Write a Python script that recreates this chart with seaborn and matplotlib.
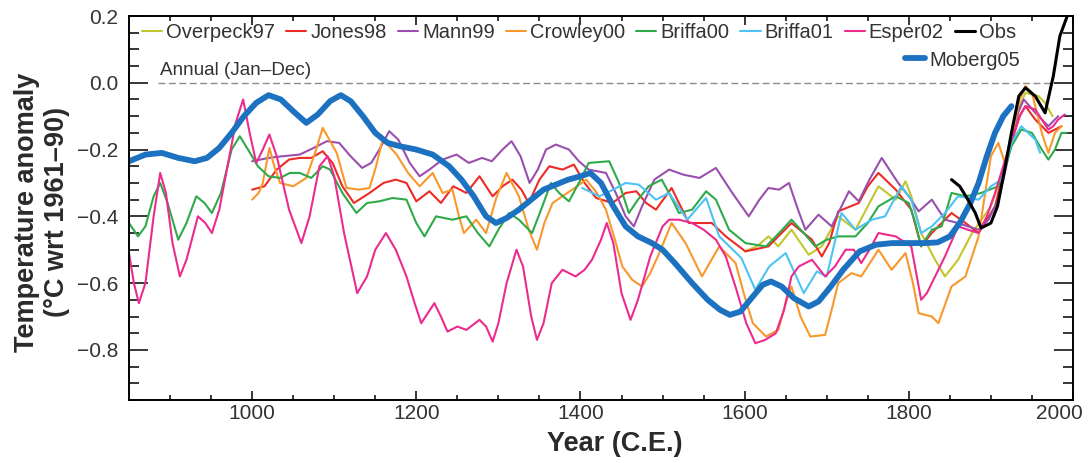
import numpy as np
import matplotlib
matplotlib.use("Agg")
import matplotlib.pyplot as plt
import matplotlib.transforms as mtransforms
import seaborn as sns

# values (deg C wrt 1961-90)
overpeck_years = [1600, 1615, 1629, 1641, 1657, 1678, 1694, 1714, 1735, 1750, 1763, 1784, 1796, 1803,
                  1815, 1832, 1844, 1860, 1877, 1900, 1913, 1925, 1935, 1942, 1958, 1966, 1975]
overpeck_vals = [-0.505, -0.49, -0.46, -0.49, -0.44, -0.515, -0.49, -0.40, -0.44, -0.37, -0.31, -0.35, -0.295, -0.34,
                 -0.45, -0.53, -0.58, -0.53, -0.45, -0.37, -0.28, -0.17, -0.07, -0.03, -0.04, -0.06, -0.1]

jones_years = [1000, 1015, 1030, 1045, 1058, 1072, 1086, 1098, 1110, 1124, 1143, 1160, 1175, 1188, 1200,
               1216, 1230, 1245, 1261, 1277, 1293, 1305, 1317, 1328, 1337, 1350, 1362, 1378, 1392, 1405,
               1419, 1439, 1455, 1468, 1480, 1492, 1511, 1520, 1532, 1560, 1577, 1601, 1629, 1645, 1657,
               1682, 1694, 1703, 1714, 1739, 1750, 1763, 1784, 1803, 1815, 1828, 1852, 1869, 1885, 1905,
               1915, 1925, 1935, 1942, 1954, 1970, 1978, 1986]
jones_vals = [-0.32, -0.31, -0.26, -0.23, -0.225, -0.225, -0.205, -0.24, -0.31, -0.36, -0.33, -0.30, -0.29, -0.30, -0.355,
              -0.325, -0.36, -0.31, -0.33, -0.28, -0.34, -0.31, -0.29, -0.32, -0.36, -0.29, -0.25, -0.26, -0.245, -0.30,
              -0.345, -0.36, -0.33, -0.325, -0.36, -0.38, -0.315, -0.36, -0.42, -0.42, -0.46, -0.505, -0.49, -0.45, -0.42,
              -0.47, -0.52, -0.48, -0.385, -0.36, -0.31, -0.27, -0.32, -0.38, -0.49, -0.45, -0.39, -0.42, -0.45, -0.37,
              -0.27, -0.18, -0.10, -0.07, -0.11, -0.15, -0.14, -0.13]

mann_years = [1000, 1020, 1037, 1058, 1075, 1091, 1106, 1120, 1134, 1145, 1155, 1167, 1178, 1192, 1204,
              1216, 1232, 1249, 1264, 1280, 1292, 1305, 1316, 1327, 1338, 1348, 1358, 1370, 1386, 1398,
              1410, 1431, 1443, 1455, 1465, 1475, 1490, 1508, 1525, 1545, 1565, 1585, 1605, 1618, 1629,
              1642, 1654, 1665, 1674, 1690, 1706, 1727, 1739, 1752, 1767, 1787, 1800, 1812, 1828, 1844,
              1860, 1872, 1885, 1897, 1909, 1917, 1925, 1933, 1940, 1954, 1970, 1982]
mann_vals = [-0.235, -0.225, -0.22, -0.215, -0.195, -0.175, -0.18, -0.22, -0.255, -0.24, -0.20, -0.145, -0.17, -0.24, -0.28,
             -0.26, -0.23, -0.215, -0.24, -0.225, -0.235, -0.20, -0.175, -0.22, -0.30, -0.26, -0.20, -0.185, -0.20, -0.235,
             -0.26, -0.27, -0.33, -0.40, -0.43, -0.37, -0.29, -0.26, -0.275, -0.285, -0.255, -0.33, -0.40, -0.35, -0.315,
             -0.32, -0.30, -0.38, -0.44, -0.395, -0.43, -0.325, -0.355, -0.29, -0.225, -0.30, -0.34, -0.385, -0.35, -0.41,
             -0.42, -0.43, -0.44, -0.41, -0.35, -0.27, -0.18, -0.09, -0.05, -0.09, -0.13, -0.10]

crowley_years = [1000, 1008, 1013, 1021, 1027, 1034, 1050, 1066, 1078, 1086, 1094, 1103, 1115, 1130, 1143,
                 1151, 1159, 1167, 1176, 1190, 1204, 1220, 1232, 1244, 1252, 1258, 1273, 1285, 1298, 1310,
                 1325, 1337, 1347, 1356, 1366, 1390, 1407, 1420, 1431, 1442, 1451, 1463, 1475, 1485, 1496,
                 1511, 1528, 1548, 1569, 1589, 1600, 1610, 1626, 1641, 1650, 1657, 1668, 1680, 1698, 1706,
                 1714, 1730, 1742, 1763, 1779, 1796, 1805, 1812, 1828, 1836, 1852, 1869, 1885, 1893, 1900,
                 1909, 1917, 1925, 1935, 1942, 1950, 1962, 1970, 1978, 1986]
crowley_vals = [-0.35, -0.33, -0.30, -0.195, -0.25, -0.30, -0.31, -0.285, -0.20, -0.135, -0.17, -0.21, -0.315, -0.32, -0.315,
                -0.25, -0.17, -0.19, -0.215, -0.27, -0.31, -0.27, -0.33, -0.32, -0.40, -0.45, -0.41, -0.45, -0.34, -0.27,
                -0.34, -0.44, -0.50, -0.42, -0.36, -0.32, -0.29, -0.33, -0.38, -0.47, -0.55, -0.59, -0.61, -0.57, -0.51,
                -0.42, -0.48, -0.58, -0.49, -0.54, -0.64, -0.72, -0.76, -0.74, -0.66, -0.61, -0.70, -0.76, -0.755, -0.68,
                -0.60, -0.57, -0.58, -0.50, -0.56, -0.51, -0.60, -0.69, -0.70, -0.72, -0.61, -0.58, -0.46, -0.33, -0.22,
                -0.18, -0.24, -0.17, -0.05, -0.01, -0.03, -0.15, -0.21, -0.15, -0.13]

briffa00_years = [850, 861, 870, 880, 888, 897, 910, 920, 932, 942, 951, 962, 975, 985, 995,
                  1007, 1020, 1034, 1046, 1058, 1072, 1086, 1095, 1110, 1127, 1140, 1155, 1171, 1188, 1200,
                  1210, 1224, 1244, 1261, 1275, 1289, 1300, 1313, 1325, 1341, 1352, 1364, 1374, 1386, 1398,
                  1410, 1435, 1447, 1459, 1470, 1483, 1499, 1510, 1520, 1536, 1553, 1565, 1581, 1601, 1626,
                  1642, 1657, 1672, 1686, 1700, 1714, 1735, 1750, 1763, 1784, 1800, 1808, 1815, 1828, 1840,
                  1852, 1869, 1888, 1909, 1918, 1925, 1937, 1950, 1962, 1970, 1978, 1986, 1992]
briffa00_vals = [-0.42, -0.46, -0.43, -0.34, -0.30, -0.36, -0.47, -0.42, -0.34, -0.36, -0.39, -0.33, -0.20, -0.16, -0.20,
                 -0.25, -0.28, -0.285, -0.27, -0.27, -0.285, -0.25, -0.26, -0.33, -0.39, -0.36, -0.355, -0.345, -0.35, -0.42,
                 -0.46, -0.40, -0.41, -0.40, -0.45, -0.49, -0.44, -0.39, -0.41, -0.45, -0.38, -0.30, -0.33, -0.355, -0.30,
                 -0.24, -0.235, -0.30, -0.39, -0.35, -0.31, -0.29, -0.34, -0.39, -0.38, -0.325, -0.35, -0.44, -0.48, -0.49,
                 -0.45, -0.41, -0.45, -0.49, -0.47, -0.46, -0.46, -0.42, -0.37, -0.34, -0.36, -0.42, -0.49, -0.44, -0.43,
                 -0.33, -0.34, -0.33, -0.31, -0.25, -0.19, -0.14, -0.15, -0.20, -0.23, -0.20, -0.15, -0.15]

briffa01_years = [1402, 1423, 1440, 1455, 1471, 1492, 1508, 1530, 1553, 1569, 1596, 1613, 1630, 1650, 1672,
                  1688, 1700, 1718, 1735, 1755, 1771, 1791, 1803, 1815, 1828, 1844, 1860, 1885, 1900, 1913,
                  1925, 1937, 1954, 1960]
briffa01_vals = [-0.315, -0.34, -0.32, -0.30, -0.305, -0.35, -0.33, -0.41, -0.345, -0.46, -0.525, -0.62, -0.55, -0.51, -0.63,
                 -0.565, -0.58, -0.39, -0.44, -0.41, -0.40, -0.31, -0.35, -0.45, -0.43, -0.39, -0.34, -0.35, -0.31, -0.29,
                 -0.18, -0.13, -0.17, -0.21]

esper_years = [850, 856, 862, 870, 880, 888, 895, 903, 912, 920, 934, 943, 951, 960, 970,
               980, 989, 997, 1005, 1013, 1021, 1030, 1045, 1060, 1070, 1082, 1092, 1100, 1112, 1128,
               1140, 1150, 1163, 1175, 1188, 1198, 1206, 1214, 1222, 1230, 1238, 1250, 1261, 1277, 1285,
               1293, 1300, 1310, 1322, 1330, 1340, 1347, 1355, 1365, 1378, 1394, 1405, 1414, 1425, 1432,
               1440, 1450, 1461, 1470, 1485, 1500, 1508, 1520, 1536, 1550, 1565, 1577, 1590, 1602, 1613,
               1625, 1638, 1648, 1657, 1666, 1682, 1698, 1710, 1723, 1733, 1742, 1752, 1763, 1784, 1803,
               1809, 1815, 1822, 1830, 1844, 1860, 1872, 1885, 1895, 1905, 1915, 1925, 1935, 1942, 1954,
               1962, 1970, 1976, 1982, 1990]
esper_vals = [-0.51, -0.60, -0.66, -0.60, -0.40, -0.27, -0.33, -0.48, -0.58, -0.53, -0.40, -0.42, -0.45, -0.38, -0.25,
              -0.12, -0.05, -0.15, -0.24, -0.20, -0.155, -0.22, -0.38, -0.48, -0.40, -0.25, -0.22, -0.28, -0.45, -0.63,
              -0.58, -0.50, -0.45, -0.50, -0.58, -0.66, -0.72, -0.69, -0.66, -0.70, -0.745, -0.73, -0.74, -0.71, -0.73,
              -0.775, -0.72, -0.60, -0.50, -0.55, -0.70, -0.77, -0.72, -0.60, -0.56, -0.58, -0.56, -0.53, -0.47, -0.42,
              -0.48, -0.63, -0.71, -0.65, -0.52, -0.43, -0.41, -0.41, -0.42, -0.44, -0.47, -0.52, -0.62, -0.72, -0.78,
              -0.77, -0.75, -0.68, -0.58, -0.55, -0.53, -0.58, -0.55, -0.50, -0.50, -0.54, -0.50, -0.45, -0.46, -0.49,
              -0.57, -0.65, -0.63, -0.59, -0.52, -0.43, -0.44, -0.45, -0.40, -0.33, -0.25, -0.17, -0.10, -0.07, -0.08,
              -0.11, -0.14, -0.13, -0.11, -0.095]

obs_years = [1852, 1862, 1872, 1881, 1888, 1900, 1908, 1916, 1925, 1934, 1942, 1954, 1966, 1976, 1984, 1993]
obs_vals = [-0.29, -0.31, -0.35, -0.39, -0.435, -0.42, -0.37, -0.27, -0.15, -0.04, -0.015, -0.04, -0.09, 0.02, 0.14, 0.2]

moberg_years = [850, 870, 890, 910, 930, 945, 960, 975, 990, 1005, 1020, 1035, 1050, 1066, 1080,
                1095, 1108, 1120, 1135, 1150, 1165, 1180, 1200, 1220, 1240, 1255, 1270, 1285, 1297, 1310,
                1325, 1340, 1355, 1370, 1385, 1400, 1412, 1425, 1440, 1455, 1470, 1487, 1500, 1515, 1536,
                1555, 1570, 1582, 1595, 1610, 1622, 1632, 1645, 1660, 1678, 1690, 1705, 1720, 1740, 1760,
                1780, 1800, 1820, 1835, 1850, 1862, 1875, 1885, 1895, 1905, 1915, 1925]
moberg_vals = [-0.235, -0.215, -0.21, -0.225, -0.235, -0.225, -0.195, -0.15, -0.10, -0.06, -0.037, -0.05, -0.085, -0.12, -0.095,
               -0.055, -0.037, -0.055, -0.10, -0.15, -0.18, -0.19, -0.20, -0.215, -0.25, -0.29, -0.34, -0.40, -0.42, -0.405,
               -0.38, -0.35, -0.32, -0.305, -0.29, -0.28, -0.27, -0.30, -0.37, -0.43, -0.46, -0.48, -0.50, -0.54, -0.60,
               -0.65, -0.68, -0.695, -0.685, -0.64, -0.605, -0.595, -0.61, -0.645, -0.67, -0.655, -0.61, -0.56, -0.505, -0.485,
               -0.48, -0.48, -0.48, -0.478, -0.46, -0.42, -0.36, -0.30, -0.22, -0.15, -0.10, -0.07]

x_major = [1000, 1200, 1400, 1600, 1800, 2000]
y_major = [0.2, 0.0, -0.2, -0.4, -0.6, -0.8]

thin_series = [
    ("Overpeck97", overpeck_years, overpeck_vals, "#c2c62e"),
    ("Jones98", jones_years, jones_vals, "#ec2b27"),
    ("Mann99", mann_years, mann_vals, "#9a4fae"),
    ("Crowley00", crowley_years, crowley_vals, "#f8982c"),
    ("Briffa00", briffa00_years, briffa00_vals, "#2faa4a"),
    ("Briffa01", briffa01_years, briffa01_vals, "#4cc3f2"),
    ("Esper02", esper_years, esper_vals, "#ec2b8e"),
]

sns.set_theme(style="ticks")
plt.rcParams["font.family"] = ["Liberation Sans", "DejaVu Sans"]
plt.rcParams["axes.unicode_minus"] = True

fig = plt.figure(figsize=(10.88, 4.63), dpi=100)
ax = fig.add_axes([129 / 1088, 63 / 463, 944 / 1088, 384 / 463])

ax.hlines(0, 885, 1972, colors="#8c8c8c", linestyles=(0, (5, 2.5)), linewidth=1.0, zorder=1)

for name, yrs, vals, col in thin_series:
    sns.lineplot(x=yrs, y=vals, ax=ax, color=col, linewidth=1.5, label=name, estimator=None)
sns.lineplot(x=moberg_years, y=moberg_vals, ax=ax, color="#1c72c0", linewidth=4.2, label="Moberg05", estimator=None)
sns.lineplot(x=obs_years, y=obs_vals, ax=ax, color="black", linewidth=2.2, label="Obs", estimator=None)

ax.set_xlim(850, 2000)
ax.set_ylim(-0.95, 0.2)
ax.set_xticks(x_major)
ax.set_xticks(np.arange(900, 2000, 50), minor=True)
ax.set_yticks(y_major)
ax.set_yticks(np.arange(-0.95, 0.2, 0.05), minor=True)
ax.set_yticklabels(["%.1f" % v if v >= 0 else "\u2212%.1f" % abs(v) for v in y_major])
ax.set_xticklabels([str(v) for v in x_major])

for s in ax.spines.values():
    s.set_linewidth(1.4)
    s.set_color("black")
ax.tick_params(which="both", direction="in", top=True, right=True, width=1.1, colors="black",
               labelcolor="#333333", labelsize=15)
ax.tick_params(axis="x", which="major", length=6.5, pad=3)
ax.tick_params(axis="x", which="minor", length=3.6)
ax.tick_params(axis="y", which="major", length=13.5, pad=8)
ax.tick_params(axis="y", which="minor", length=7)

# the 2000 label sits a bit to the left in the original
last = ax.xaxis.get_major_ticks()[-1].label1
last.set_transform(last.get_transform() + mtransforms.ScaledTranslation(-0.14, 0, fig.dpi_scale_trans))

ax.set_xlabel("Year (C.E.)", fontsize=19.5, fontweight="bold", color="#2a2a2a")
ax.xaxis.set_label_coords(0.515, -0.08)
ax.set_ylabel("Temperature anomaly\n(\u00b0C wrt 1961\u201390)", fontsize=19.5, fontweight="bold", color="#2a2a2a")
ax.yaxis.set_label_coords(-0.062, 0.49)

ax.text(0.033, 0.859, "Annual (Jan\u2013Dec)", transform=ax.transAxes, fontsize=13.6,
        color="#333333", va="center", ha="left")

# legend: one row of eight, Moberg05 alone underneath on the right
handles, labels = ax.get_legend_handles_labels()
lookup = dict(zip(labels, handles))
row1 = ["Overpeck97", "Jones98", "Mann99", "Crowley00", "Briffa00", "Briffa01", "Esper02", "Obs"]
ax.get_legend().remove()
leg1 = ax.legend([lookup[n] for n in row1], row1, ncol=8, loc="center left",
                 bbox_to_anchor=(13 / 944, 367 / 384), frameon=False, fontsize=14.5,
                 handlelength=1.0, handletextpad=0.2, columnspacing=0.55,
                 borderpad=0, borderaxespad=0, labelcolor="#333333")
ax.add_artist(leg1)
ax.legend([lookup["Moberg05"]], ["Moberg05"], loc="center right",
          bbox_to_anchor=(891 / 944, 340 / 384), frameon=False, fontsize=14.5,
          handlelength=1.0, handletextpad=0.2, borderpad=0, borderaxespad=0, labelcolor="#333333")

fig.savefig("out.png", dpi=100)
plt.close(fig)
